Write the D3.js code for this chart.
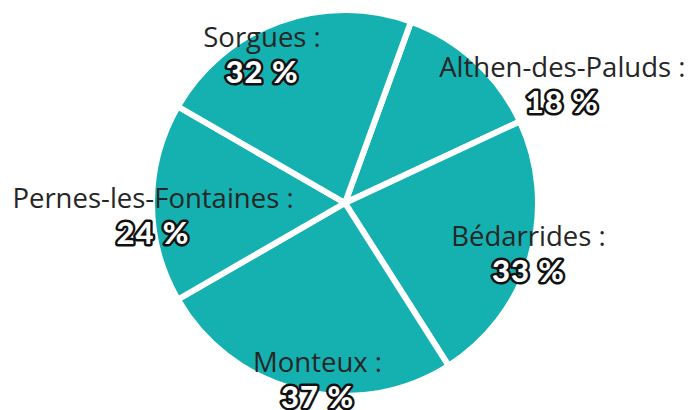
<!DOCTYPE html>
<html>
<head>
<meta charset="utf-8">
<script src="https://cdn.jsdelivr.net/npm/d3@7"></script>
<style>
  body { margin: 0; background: #fff; }
  #pie { width: 691px; height: 410px; }
</style>
</head>
<body>
<div id="pie"></div>
<script>
// categories and values, clockwise from the start angle
var towns = ["Althen-des-Paluds", "Bédarrides", "Monteux", "Pernes-les-Fontaines", "Sorgues"];
var shares = [18, 33, 37, 24, 32];
var pctLabels = ["18 %", "33 %", "37 %", "24 %", "32 %"];

// label nudges (layout only)
var nudge = {
  "Althen-des-Paluds": [91, 21],
  "Bédarrides": [4, 0],
  "Monteux": [17, -4],
  "Pernes-les-Fontaines": [-5, 14],
  "Sorgues": [-19, 29]
};

function displayPie() {
  d3.select('#pie>svg').remove()

  var width = 691;
  var height = 410;
  var cx = 345, cy = 203;
  var radius = 193;
  var labelRadius = 187;

  var svg = d3.select("#pie")
    .append("svg")
    .attr("width", width)
    .attr("height", height)

  var data = towns.map(function (t, i) { return { town: t, value: shares[i], pct: pctLabels[i] }; });

  var start = 20 * Math.PI / 180;
  var pie = d3.pie()
    .sort(null)
    .value(function (d) { return d.value; })
    .startAngle(start)
    .endAngle(start + 2 * Math.PI);

  var arc = d3.arc().innerRadius(0).outerRadius(radius);

  var g = svg.append("g").attr("transform", `translate(${cx},${cy})`);

  // slices
  g.selectAll("path")
    .data(pie(data))
    .enter()
    .append("path")
    .attr("d", arc)
    .attr("fill", "#15b1b1")
    .attr("stroke", "#fff")
    .attr("stroke-width", 6)
    .attr("stroke-linejoin", "round");

  // labels
  var labels = g.selectAll(".lbl")
    .data(pie(data))
    .enter()
    .append("g")
    .attr("class", "lbl")
    .attr("transform", function (d) {
      var a = (d.startAngle + d.endAngle) / 2;
      var n = nudge[d.data.town];
      var x = Math.sin(a) * labelRadius + n[0];
      var y = -Math.cos(a) * labelRadius + n[1];
      return `translate(${x},${y})`;
    });

  labels.append("text")
    .attr("y", -9)
    .attr("text-anchor", "middle")
    .style("font-family", "'Open Sans', sans-serif")
    .style("font-size", "27.5px")
    .style("fill", "#262626")
    .text(function (d) { return d.data.town + " :"; });

  labels.append("text")
    .attr("y", 27)
    .attr("text-anchor", "middle")
    .style("font-family", "Lato, sans-serif")
    .style("font-weight", "900")
    .style("font-size", "31px")
    .style("letter-spacing", "1px")
    .style("fill", "#fff")
    .style("stroke", "#111")
    .style("stroke-width", 5)
    .style("stroke-linejoin", "round")
    .style("paint-order", "stroke")
    .text(function (d) { return d.data.pct; });
}

displayPie()
</script>
</body>
</html>
